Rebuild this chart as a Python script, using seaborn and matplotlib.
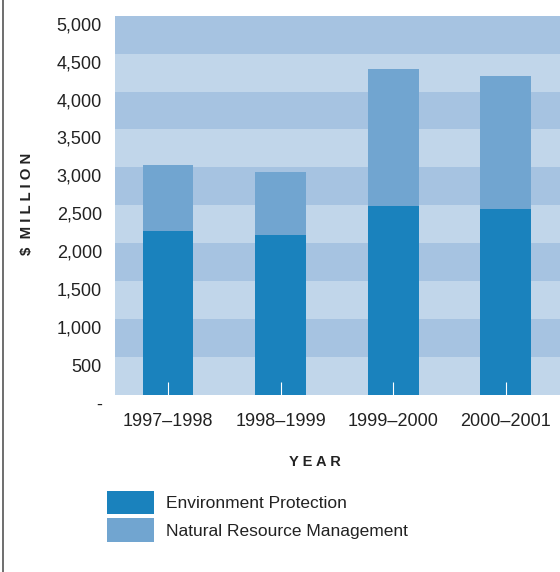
import matplotlib
matplotlib.use("Agg")
import matplotlib.pyplot as plt
import matplotlib.transforms as mtransforms
from matplotlib.patches import Patch
from matplotlib.lines import Line2D
import pandas as pd
import seaborn as sns

# Spending by financial year ($ million)
years = ["1997–1998", "1998–1999", "1999–2000", "2000–2001"]
environment_protection = [2160, 2105, 2490, 2450]
natural_resource_mgmt = [875, 830, 1805, 1750]

y_ticks = [0, 500, 1000, 1500, 2000, 2500, 3000, 3500, 4000, 4500, 5000]
y_tick_labels = ["-", "500", "1,000", "1,500", "2,000", "2,500", "3,000",
                 "3,500", "4,000", "4,500", "5,000"]
series_names = ["Environment Protection", "Natural Resource Management"]

ENV_COLOR = "#1a82bd"
NRM_COLOR = "#71a5d0"
BAND_DARK = "#a6c3e1"
BAND_LIGHT = "#c1d6ea"
TEXT = "#222222"

sns.set_theme(style="white")
plt.rcParams["font.family"] = ["Liberation Sans", "DejaVu Sans"]

df = pd.DataFrame({
    "year": years,
    "env": environment_protection,
    "nrm": natural_resource_mgmt,
})
df["total"] = df["env"] + df["nrm"]

fig = plt.figure(figsize=(5.6, 5.72), dpi=100)
ax = fig.add_axes([115 / 560, 177 / 572, 445 / 560, 379.3 / 572])

# alternating horizontal bands behind the bars
for lo, hi in zip(y_ticks[:-1], y_ticks[1:]):
    shade = BAND_DARK if (lo // 500) % 2 == 1 else BAND_LIGHT
    ax.axhspan(lo, hi, color=shade, lw=0, zorder=0)

# stacked bars: full height in the lighter colour, lower segment on top
sns.barplot(data=df, x="year", y="total", color=NRM_COLOR, saturation=1,
            width=0.453, linewidth=0, ax=ax, zorder=1)
sns.barplot(data=df, x="year", y="env", color=ENV_COLOR, saturation=1,
            width=0.453, linewidth=0, ax=ax, zorder=2)

ax.set_xlim(-0.471, 3.484)
ax.set_ylim(0, 5000)
ax.set_xlabel("")
ax.set_ylabel("")
for s in ax.spines.values():
    s.set_visible(False)

ax.set_yticks(y_ticks)
ax.set_yticklabels(y_tick_labels)
ax.set_axisbelow(False)
ax.xaxis.set_zorder(3)
ax.tick_params(axis="x", bottom=True, direction="in", length=9.4, width=0.8,
               color="white", pad=13, labelsize=13, labelcolor=TEXT)
ax.tick_params(axis="y", left=False, length=0, pad=9.4, labelsize=13,
               labelcolor=TEXT)
shift = mtransforms.ScaledTranslation(0, -0.08, fig.dpi_scale_trans)
for lab in ax.get_yticklabels():
    lab.set_transform(lab.get_transform() + shift)

fig.text(27 / 560, 1 - 204 / 572, "$  M I L L I O N", rotation=90,
         ha="center", va="center", fontsize=10.8, fontweight="bold", color=TEXT)
fig.text(315 / 560, 1 - 461.7 / 572, "Y E A R", ha="center", va="center",
         fontsize=10.5, fontweight="bold", color=TEXT)

handles = [Patch(facecolor=ENV_COLOR, edgecolor="none"),
           Patch(facecolor=NRM_COLOR, edgecolor="none")]
fig.legend(handles, series_names, loc="upper left",
           bbox_to_anchor=(106.7 / 560, 1 - 490.7 / 572),
           frameon=False, borderpad=0, borderaxespad=0,
           handlelength=2.7, handleheight=1.715, handletextpad=0.73,
           labelspacing=0.22, fontsize=12.5, labelcolor=TEXT)

fig.add_artist(Line2D([3 / 560, 3 / 560], [0, 1], transform=fig.transFigure,
                      color="#555555", lw=1.2))

fig.savefig("out.png", dpi=100)
